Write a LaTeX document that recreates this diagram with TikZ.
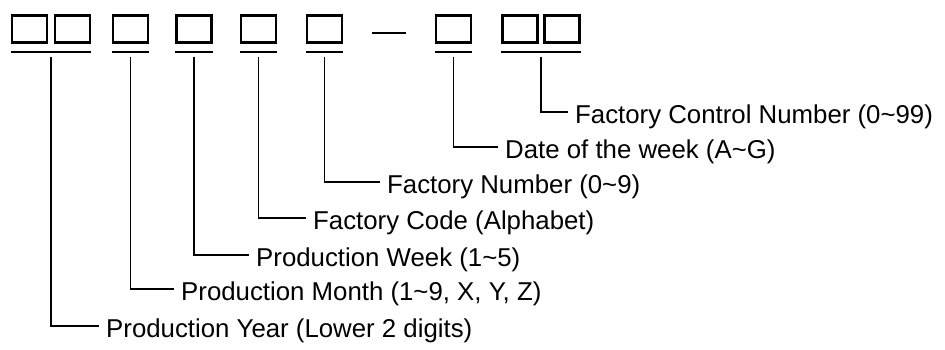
\documentclass[tikz,border=0pt]{standalone}
\usepackage{fontspec}
\setmainfont{Liberation Sans}
\usetikzlibrary{positioning,calc}
\tikzset{
  box/.style={draw, line width=2.8pt, minimum width=35pt, minimum height=27pt,
              inner sep=0pt, outer sep=0pt},
  bar/.style={line width=2.8pt, line cap=rect},
  lead/.style={line width=1.8pt},
  tag/.style={anchor=west, inner sep=0pt, text height=23.5pt, text depth=0pt,
              font=\fontsize{25.8}{30}\selectfont},
}

\begin{document}
\begin{tikzpicture}[x=1pt, y=-1pt]
  \useasboundingbox (0,0) rectangle (945,350);
  % code boxes
  \node[box] (b1) at (29.5,29) {};
  \node[box, right=8pt of b1] (b2) {};
  \node[box] (b3) at (130.5,29) {};
  \node[box] (b4) at (194,29) {};
  \node[box] (b5) at (258.5,29) {};
  \node[box] (b6) at (324.5,29) {};
  \node[box] (b7) at (453.5,29) {};
  \node[box] (b8) at (520,29) {};
  \node[box, right=7pt of b8] (b9) {};

  % hyphen between the groups
  \coordinate (hy) at ($(b6.east)!0.5!(b7.west)+(0,4)$);
  \draw[bar, line cap=butt] ($(hy)+(-17,0)$) -- ($(hy)+(17,0)$);

  % underlines and start points of the leads
  \foreach \a/\b in {b1/b2, b3/b3, b4/b4, b5/b5, b6/b6, b7/b7, b8/b9} {
    \draw[bar] ($(\a.south west)+(0,9.5)$) -- ($(\b.south east)+(0,9.5)$);
    \coordinate (u-\a) at ($(\a.south west)!0.5!(\b.south east)+(0,15)$);
  }

  % field descriptions
  \node[tag] (year)   at (106,326) {Production Year (Lower 2 digits)};
  \node[tag] (month)  at (181,289) {Production Month (1\textasciitilde9, X, Y, Z)};
  \node[tag] (week)   at (256,255) {Production Week (1\textasciitilde5)};
  \node[tag] (fcode)  at (313,218) {Factory Code (Alphabet)};
  \node[tag] (fnum)   at (387,182) {Factory Number (0\textasciitilde9)};
  \node[tag] (day)    at (505,147) {Date of the week (A\textasciitilde G)};
  \node[tag] (ctrl)   at (575,112) {Factory Control Number (0\textasciitilde99)};

  \draw[lead] (u-b1) |- ([xshift=-7pt]year.west);
  \draw[lead] (u-b3) |- ([xshift=-7pt]month.west);
  \draw[lead] (u-b4) |- ([xshift=-7pt]week.west);
  \draw[lead] (u-b5) |- ([xshift=-7pt]fcode.west);
  \draw[lead] (u-b6) |- ([xshift=-7pt]fnum.west);
  \draw[lead] (u-b7) |- ([xshift=-7pt]day.west);
  \draw[lead] (u-b8) |- ([xshift=-7pt]ctrl.west);
\end{tikzpicture}
\end{document}
